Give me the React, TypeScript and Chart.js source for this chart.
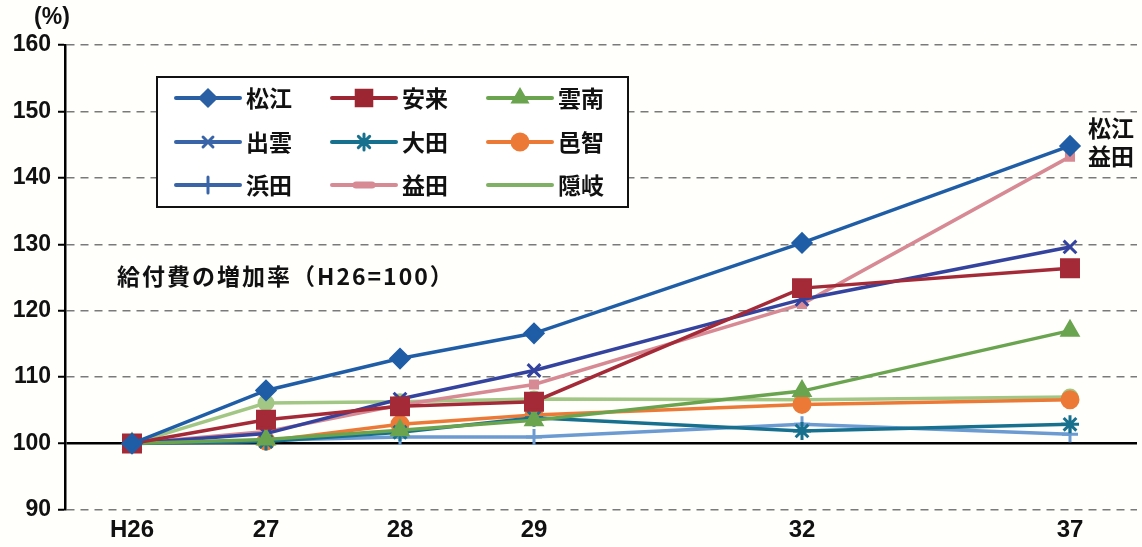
import React, { useEffect, useRef } from 'react';
import { Chart, registerables } from 'chart.js';
import { drawPoint } from 'chart.js/helpers';

Chart.register(...registerables);

const categories = ['H26', '27', '28', '29', '32', '37'];
const categoryPositions = [0, 1, 2, 3, 5, 7];
const yTickValues = [90, 100, 110, 120, 130, 140, 150, 160];

const matsue = [100, 108.0, 112.8, 116.6, 130.2, 144.8];
const yasugi = [100, 103.6, 105.6, 106.3, 123.4, 126.4];
const unnan = [100, 100.6, 102.0, 103.5, 107.9, 117.0];
const izumo = [100, 101.5, 106.7, 111.0, 121.7, 129.6];
const ohda = [100, 100.3, 101.7, 103.9, 101.9, 102.9];
const ochi = [100, 100.4, 102.9, 104.3, 105.9, 106.6];
const hamada = [100, 100.5, 101.0, 101.0, 102.9, 101.4];
const masuda = [100, 101.8, 105.8, 108.9, 121.0, 143.2];
const oki = [100, 106.1, 106.3, 106.7, 106.6, 107.0];

const seriesNames = ['松江', '安来', '雲南', '出雲', '大田', '邑智', '浜田', '益田', '隠岐'];
const endLabels = ['松江', '益田'];
const noteText = '給付費の増加率（H26=100）';
const unitText = '(%)';

const NUM_FONT = '"Liberation Sans Narrow", "Liberation Sans", Arial, sans-serif';
const JP_FONT = '"Noto Sans CJK JP", "Noto Sans", sans-serif';

type Style = { color: string; point: string; radius: number; legendPoint: string | false; legendRadius: number };
const styles: Style[] = [
  { color: '#1f5ea6', point: 'rectRot', radius: 9, legendPoint: 'rectRot', legendRadius: 8 },
  { color: '#a52a37', point: 'rect', radius: 12, legendPoint: 'rect', legendRadius: 11 },
  { color: '#6aa44f', point: 'triangle', radius: 9, legendPoint: 'triangle', legendRadius: 8 },
  { color: '#34439e', point: 'crossRot', radius: 9, legendPoint: 'crossRot', legendRadius: 7 },
  { color: '#17708e', point: 'star', radius: 9, legendPoint: 'star', legendRadius: 8 },
  { color: '#ec7a36', point: 'circle', radius: 8, legendPoint: 'circle', legendRadius: 8 },
  { color: '#6c9bd2', point: 'cross', radius: 8, legendPoint: 'cross', legendRadius: 8 },
  { color: '#d78a93', point: 'rect', radius: 5, legendPoint: 'line', legendRadius: 8 },
  { color: '#a2c784', point: 'circle', radius: 7, legendPoint: false, legendRadius: 0 },
];
const legendLineColors = ['#2a5fa4', '#9c2733', '#6aa44f', '#3a64a8', '#17708e', '#ec7a36', '#3a64a8', '#d78a93', '#7fb164'];
const allValues = [matsue, yasugi, unnan, izumo, ohda, ochi, hamada, masuda, oki];

const overlayPlugin = {
  id: 'overlay',
  afterDraw(chart: any) {
    const ctx = chart.ctx as CanvasRenderingContext2D;
    ctx.save();
    // unit label
    ctx.fillStyle = '#111';
    ctx.font = `bold 23px ${NUM_FONT}`;
    ctx.textAlign = 'center';
    ctx.textBaseline = 'middle';
    ctx.fillText(unitText, 52, 18);

    // legend box
    const bx = 157, by = 77, bw = 471, bh = 130;
    ctx.fillStyle = '#ffffff';
    ctx.fillRect(bx, by, bw, bh);
    ctx.lineWidth = 2;
    ctx.strokeStyle = '#111';
    ctx.strokeRect(bx, by, bw, bh);
    const colX = [176, 332, 488];
    const rowY = [98, 142, 185];
    seriesNames.forEach((name, i) => {
      const col = i % 3;
      const row = Math.floor(i / 3);
      const x0 = colX[col];
      const y = rowY[row];
      const st = styles[i];
      const lc = legendLineColors[i];
      ctx.strokeStyle = lc;
      ctx.fillStyle = lc;
      ctx.lineWidth = 4;
      ctx.lineCap = 'round';
      ctx.beginPath();
      ctx.moveTo(x0, y);
      ctx.lineTo(x0 + 64, y);
      ctx.stroke();
      if (st.legendPoint) {
        ctx.lineWidth = st.legendPoint === 'line' ? 7 : 3;
        drawPoint(ctx, { pointStyle: st.legendPoint as any, radius: st.legendRadius, borderWidth: 3, rotation: 0 } as any, x0 + 32, y);
      }
      ctx.fillStyle = '#111';
      ctx.font = `bold 23px ${JP_FONT}`;
      ctx.textAlign = 'left';
      ctx.textBaseline = 'middle';
      ctx.fillText(name, x0 + 70, y);
    });

    // note
    ctx.fillStyle = '#111';
    ctx.font = `bold 23px ${JP_FONT}`;
    ctx.textAlign = 'left';
    ctx.textBaseline = 'middle';
    (ctx as any).letterSpacing = '2px';
    ctx.fillText(noteText, 117, 276);
    (ctx as any).letterSpacing = '0px';

    // end labels
    ctx.font = `bold 23px ${JP_FONT}`;
    ctx.fillText(endLabels[0], 1088, 128);
    ctx.fillText(endLabels[1], 1088, 156);
    ctx.restore();
  },
};

const bgPlugin = {
  id: 'bg',
  beforeDraw(chart: any) {
    const ctx = chart.ctx;
    ctx.save();
    ctx.fillStyle = '#fffffc';
    ctx.fillRect(0, 0, chart.width, chart.height);
    ctx.restore();
  },
};

export default function App() {
  const ref = useRef<HTMLCanvasElement>(null);
  useEffect(() => {
    if (!ref.current) return;
    const datasets = allValues.map((vals, i) => ({
      label: seriesNames[i],
      data: vals.map((v, j) => ({ x: categoryPositions[j], y: v })),
      borderColor: styles[i].color,
      backgroundColor: styles[i].color,
      pointBackgroundColor: styles[i].color,
      pointBorderColor: styles[i].color,
      pointStyle: styles[i].point,
      pointRadius: styles[i].radius,
      pointBorderWidth: 3,
      borderWidth: 3.5,
      tension: 0,
      clip: false,
    }));
    const chart = new Chart(ref.current, {
      type: 'line',
      data: { datasets } as any,
      options: {
        responsive: false,
        animation: false,
        events: [],
        layout: { autoPadding: false, padding: { top: 45, right: 5, left: 0, bottom: 0 } },
        plugins: { legend: { display: false }, tooltip: { enabled: false } },
        scales: {
          x: {
            type: 'linear',
            min: -0.5,
            max: 7.5,
            afterBuildTicks: (scale: any) => {
              scale.ticks = categoryPositions.map((v) => ({ value: v }));
            },
            afterFit: (scale: any) => {
              scale.height = 37;
              scale.paddingLeft = 0;
              scale.paddingRight = 0;
            },
            ticks: {
              autoSkip: false,
              maxRotation: 0,
              padding: 6,
              color: '#111',
              font: { family: NUM_FONT, size: 24, weight: 'bold' },
              callback: (value: any) => {
                const idx = categoryPositions.indexOf(Number(value));
                return idx >= 0 ? categories[idx] : '';
              },
            },
            grid: { display: false, drawTicks: false },
            border: { display: false },
          },
          y: {
            type: 'linear',
            min: 90,
            max: 160,
            afterBuildTicks: (scale: any) => {
              scale.ticks = yTickValues.map((v) => ({ value: v }));
            },
            afterFit: (scale: any) => {
              scale.width = 65;
            },
            ticks: {
              padding: 7,
              color: '#111',
              font: { family: NUM_FONT, size: 23, weight: 'bold' },
            },
            grid: {
              color: (c: any) => (c.tick && c.tick.value === 100 ? '#000' : '#7a7a7a'),
              lineWidth: (c: any) => (c.tick && c.tick.value === 100 ? 2.5 : 1.5),
              tickColor: '#000',
              tickLength: 7,
              tickWidth: 2,
              tickBorderDash: [],
            },
            border: {
              display: true,
              color: '#000',
              width: 2.5,
              dash: (c: any) => (c.tick && c.tick.value === 100 ? [] : [8, 6]),
            },
          },
        },
      } as any,
      plugins: [bgPlugin, overlayPlugin],
    });
    return () => chart.destroy();
  }, []);
  return (
    <div style={{ position: 'fixed', left: 0, top: 0, width: 1142, height: 547 }}>
      <canvas ref={ref} width={1142} height={547} style={{ width: 1142, height: 547, display: 'block' }} />
    </div>
  );
}
